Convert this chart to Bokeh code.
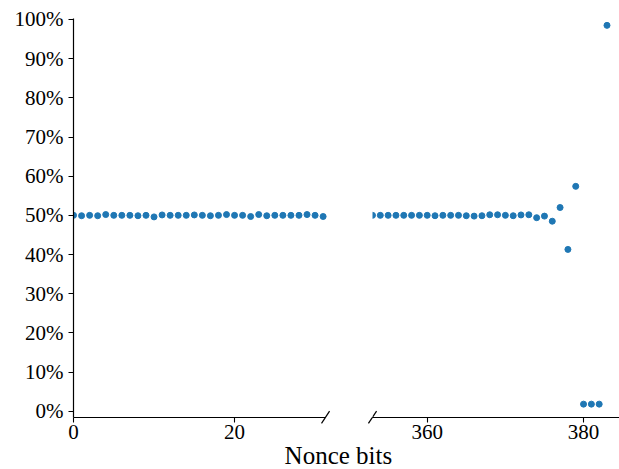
from bokeh.plotting import figure
from bokeh.models import (Range1d, FixedTicker, PrintfTickFormatter, LinearAxis,
                          ColumnDataSource, BoxAnnotation, Label)
from bokeh.embed import file_html
from bokeh.resources import INLINE

# Share of ones (%) per nonce bit position: first 32 bits and last 31 bits
low_bits = list(range(0, 32))
low_share = [50.0, 49.9, 50.0, 49.9, 50.2, 50.0, 50.0, 50.0, 49.9, 50.0,
             49.6, 50.1, 50.0, 50.0, 50.0, 50.1, 50.0, 49.9, 50.0, 50.2,
             50.0, 50.0, 49.7, 50.2, 49.9, 50.0, 50.0, 50.0, 50.0, 50.2,
             50.0, 49.7]

high_bits = list(range(353, 384))
high_share = [50.0, 50.0, 50.0, 50.0, 50.0, 50.0, 50.0, 50.0, 49.9, 50.0,
              50.0, 50.0, 49.9, 49.8, 49.9, 50.15, 50.15, 50.0, 49.9, 50.1,
              50.15, 49.4, 49.8, 48.5, 52.0, 41.3, 57.4, 1.8, 1.8, 1.8,
              98.5]

left_ticks = [0, 20]
right_ticks = [360, 380]
y_ticks = list(range(0, 101, 10))

FONT = "Liberation Serif"
DOT = "#1f77b4"

# the frame covers the whole canvas; spines are placed with fixed_location
# so that every tick label stays inside the frame
Y_SPINE, Y_TOP = -1.55, 100.25
Y_FRAME_BOTTOM, Y_FRAME_TOP = -14.89, 104.85
# left segment [0, 31.3]; the right segment [353, 384.6] lives on its own range
LEFT_START, LEFT_END = 0.0, 31.3
RIGHT_START, RIGHT_END = 353.0, 384.6

p = figure(width=619, height=469, output_backend="svg", toolbar_location=None,
           x_range=Range1d(-9.07, 67.81),
           y_range=Range1d(Y_FRAME_BOTTOM, Y_FRAME_TOP),
           min_border=0)
p.extra_x_ranges = {"tail": Range1d(305.41, RIGHT_END)}
p.outline_line_color = None
p.xgrid.visible = False
p.ygrid.visible = False
p.background_fill_color = "white"
p.border_fill_color = "white"

p.scatter("bit", "share", source=ColumnDataSource(dict(bit=low_bits, share=low_share)),
          size=6, color=DOT, line_color=DOT, level="underlay")
p.scatter("bit", "share", source=ColumnDataSource(dict(bit=high_bits, share=high_share)),
          size=6, color=DOT, line_color=DOT, x_range_name="tail", level="underlay")

# each segment is cut at its own start: mask the dots that spill past it
p.add_layout(BoxAnnotation(left=-1.0, right=LEFT_START, bottom=Y_SPINE, top=Y_TOP,
                           fill_color="white", fill_alpha=1.0,
                           line_color=None, level="glyph"))
p.add_layout(BoxAnnotation(left=348.0, right=RIGHT_START, bottom=Y_SPINE, top=Y_TOP,
                           x_range_name="tail", fill_color="white", fill_alpha=1.0,
                           line_color=None, level="glyph"))

head_axis = p.xaxis[0]
head_axis.bounds = (LEFT_START, LEFT_END)
head_axis.ticker = FixedTicker(ticks=left_ticks)

tail_axis = LinearAxis(x_range_name="tail", bounds=(RIGHT_START, RIGHT_END),
                       ticker=FixedTicker(ticks=right_ticks))
p.add_layout(tail_axis, "below")

for ax in (head_axis, tail_axis):
    ax.fixed_location = Y_SPINE
    ax.major_label_standoff = 3

p.yaxis.fixed_location = LEFT_START
p.yaxis.bounds = (Y_SPINE, Y_TOP)
p.yaxis.ticker = FixedTicker(ticks=y_ticks)
p.yaxis.formatter = PrintfTickFormatter(format="%d%%")
p.yaxis.major_label_standoff = 5

for ax in p.axis:
    ax.axis_line_color = "black"
    ax.axis_line_width = 1.2
    ax.major_tick_line_color = "black"
    ax.major_tick_line_width = 1.1
    ax.major_tick_in = 0
    ax.major_tick_out = 5
    ax.minor_tick_line_color = None
    ax.major_label_text_font = FONT
    ax.major_label_text_font_size = "21px"
    ax.major_label_text_color = "black"

# diagonal marks where the x axis is cut
dx_head, dx_tail, dy = 0.5, 0.52, 1.55
p.segment(x0=[LEFT_END - dx_head], y0=[Y_SPINE - dy],
          x1=[LEFT_END + dx_head], y1=[Y_SPINE + dy],
          line_color="black", line_width=1.2)
p.segment(x0=[RIGHT_START - dx_tail], y0=[Y_SPINE - dy],
          x1=[RIGHT_START + dx_tail], y1=[Y_SPINE + dy],
          line_color="black", line_width=1.2, x_range_name="tail")

# shared x axis title, centred under the gap between the two segments
p.add_layout(Label(x=32.9, y=-11.3, text="Nonce bits", text_align="center",
                   text_baseline="alphabetic", text_font=FONT,
                   text_font_size="25px", text_color="black"))

open("out.html", "w").write(file_html(p, INLINE))
